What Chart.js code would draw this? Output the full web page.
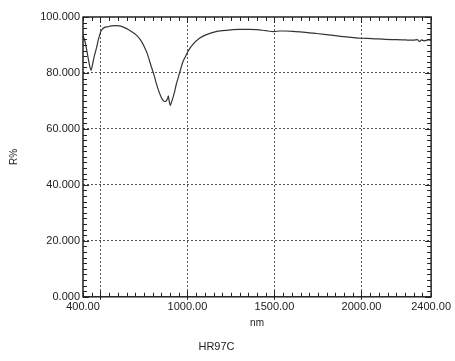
<!DOCTYPE html>
<html>
<head>
<meta charset="utf-8">
<script src="https://cdn.jsdelivr.net/npm/chart.js@4.4.1/dist/chart.umd.min.js"></script>
<style>
  html, body { margin: 0; padding: 0; background: #fff; }
  #wrap { width: 455px; height: 361px; }
</style>
</head>
<body>
<div id="wrap"><canvas id="chart"></canvas></div>
<script>
// spectrum
const wavelength = [400, 410, 420, 430, 440, 447, 455, 465, 476, 488, 501, 512, 524, 540, 562, 585, 610, 635, 657, 680, 705, 730, 752, 768, 781, 792, 802, 812, 821, 835, 850, 860, 869, 876, 882, 887, 890, 895, 901, 908, 916, 925, 935, 945, 954, 964, 973, 988, 1002, 1030, 1069, 1110, 1164, 1200, 1250, 1300, 1354, 1400, 1450, 1497, 1530, 1564, 1620, 1678, 1740, 1811, 1880, 1943, 2000, 2060, 2135, 2200, 2250, 2300, 2320, 2335, 2345, 2360, 2383, 2400];
const reflectance = [93.4, 91.6, 88.6, 85.2, 82.0, 81.0, 83.2, 86.0, 88.6, 91.8, 94.6, 95.7, 96.3, 96.5, 96.8, 96.9, 96.8, 96.3, 95.6, 94.7, 93.6, 91.8, 89.4, 87.1, 84.6, 82.3, 80.5, 78.4, 76.3, 73.6, 71.2, 70.2, 69.8, 69.9, 70.4, 71.0, 71.8, 70.0, 68.4, 69.5, 71.0, 73.0, 75.7, 77.9, 79.9, 82.0, 83.8, 85.8, 87.6, 90.1, 92.4, 93.7, 94.8, 95.1, 95.4, 95.6, 95.6, 95.5, 95.1, 94.8, 95.0, 95.0, 94.8, 94.5, 94.1, 93.6, 93.1, 92.7, 92.4, 92.3, 92.0, 91.9, 91.8, 91.7, 91.9, 91.2, 91.8, 91.5, 91.8, 91.7];

const xLabels = [400, 1000, 1500, 2000, 2400];
const xGrid = [500, 1000, 1500, 2000];
const yLabels = [0, 20, 40, 60, 80, 100];

const FONT = 'Liberation Sans, Arial, sans-serif';
const INK = '#222';

// inward tick marks on all four sides plus the frame
const frameTicks = {
    id: 'frameTicks',
    afterDraw(chart) {
        const { ctx, chartArea: a, scales: { x, y } } = chart;
        ctx.save();
        ctx.strokeStyle = INK;
        ctx.lineWidth = 1;
        ctx.beginPath();
        x.ticks.forEach(t => {
            const px = Math.round(x.getPixelForValue(t.value)) + 0.5;
            const len = xGrid.includes(t.value) ? 6 : 4;
            ctx.moveTo(px, a.bottom); ctx.lineTo(px, a.bottom - len);
            ctx.moveTo(px, a.top); ctx.lineTo(px, a.top + len);
            if (xGrid.includes(t.value)) { ctx.moveTo(px, a.bottom); ctx.lineTo(px, a.bottom + 3); }
        });
        y.ticks.forEach(t => {
            const py = Math.round(y.getPixelForValue(t.value)) + 0.5;
            const len = t.value % 20 === 0 ? 6 : 4;
            ctx.moveTo(a.left, py); ctx.lineTo(a.left + len, py);
            ctx.moveTo(a.right, py); ctx.lineTo(a.right - len, py);
        });
        ctx.stroke();
        ctx.lineWidth = 1.5;
        ctx.strokeRect(a.left, a.top, a.right - a.left, a.bottom - a.top);
        ctx.restore();
    }
};

new Chart(document.getElementById('chart'), {
    type: 'line',
    data: {
        datasets: [{
            data: wavelength.map((w, i) => ({ x: w, y: reflectance[i] })),
            borderColor: '#333',
            borderWidth: 1.2,
            pointRadius: 0,
            cubicInterpolationMode: 'monotone',
            fill: false
        }]
    },
    options: {
        responsive: true,
        maintainAspectRatio: false,
        animation: false,
        layout: { padding: { top: 17, right: 22, left: 0, bottom: 1 } },
        plugins: {
            legend: { display: false },
            tooltip: { enabled: false },
            title: {
                display: true,
                text: 'HR97C',
                position: 'bottom',
                color: INK,
                font: { family: FONT, size: 11, weight: 'normal' },
                padding: { top: 5, bottom: 6 }
            }
        },
        scales: {
            x: {
                type: 'linear',
                min: 400,
                max: 2400,
                afterBuildTicks: scale => {
                    const ticks = [];
                    for (let v = 400; v <= 2400; v += 50) ticks.push({ value: v });
                    scale.ticks = ticks;
                },
                afterFit: scale => { scale.height = 39; },
                ticks: {
                    autoSkip: false,
                    maxRotation: 0,
                    padding: 4,
                    color: INK,
                    font: { family: FONT, size: 11 },
                    callback: v => xLabels.includes(v) ? v.toFixed(2) : ''
                },
                grid: {
                    drawTicks: false,
                    lineWidth: 1,
                    color: ctx => xGrid.includes(ctx.tick && ctx.tick.value) ? '#555' : 'rgba(0,0,0,0)'
                },
                border: { display: false, dash: [2, 2] },
                title: {
                    display: true,
                    text: 'nm',
                    color: INK,
                    font: { family: FONT, size: 10 },
                    padding: { top: 0, bottom: 7 }
                }
            },
            y: {
                min: 0,
                max: 100,
                afterBuildTicks: scale => {
                    const ticks = [];
                    for (let v = 0; v <= 100; v += 2) ticks.push({ value: v });
                    scale.ticks = ticks;
                },
                afterFit: scale => { scale.width = 83; },
                ticks: {
                    autoSkip: false,
                    padding: 3,
                    color: INK,
                    font: { family: FONT, size: 11 },
                    callback: v => yLabels.includes(v) ? v.toFixed(3) : ''
                },
                grid: {
                    drawTicks: false,
                    lineWidth: 1,
                    color: ctx => {
                        const v = ctx.tick && ctx.tick.value;
                        return v % 20 === 0 && v > 0 && v < 100 ? '#555' : 'rgba(0,0,0,0)';
                    }
                },
                border: { display: false, dash: [2, 2] },
                title: {
                    display: true,
                    text: 'R%',
                    color: INK,
                    font: { family: FONT, size: 10 },
                    padding: { top: 8, bottom: 0 }
                }
            }
        }
    },
    plugins: [frameTicks]
});
</script>
</body>
</html>
